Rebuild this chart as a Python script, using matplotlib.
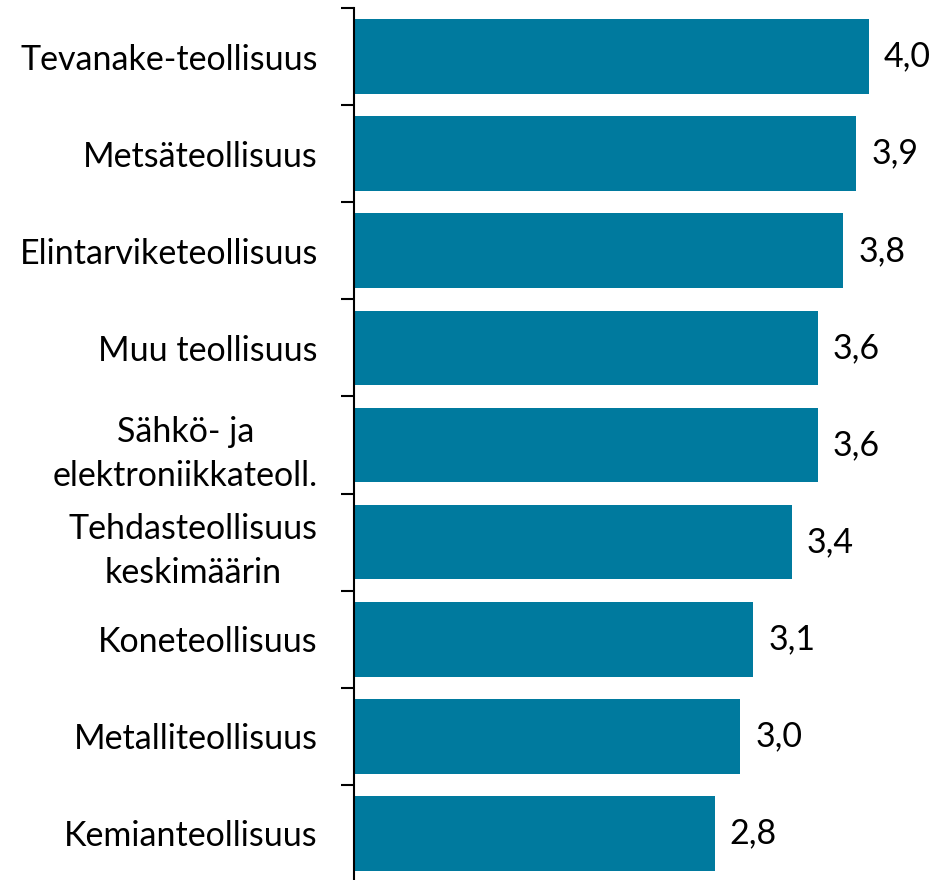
import matplotlib
matplotlib.use("Agg")
import matplotlib.pyplot as plt
import numpy as np

categories = ["Tevanake-teollisuus", "Metsäteollisuus", "Elintarviketeollisuus",
              "Muu teollisuus", "Sähkö- ja\nelektroniikkateoll.", "Tehdasteollisuus\nkeskimäärin",
              "Koneteollisuus", "Metalliteollisuus", "Kemianteollisuus"]
values = [4.0, 3.9, 3.8, 3.6, 3.6, 3.4, 3.1, 3.0, 2.8]
value_labels = ["4,0", "3,9", "3,8", "3,6", "3,6", "3,4", "3,1", "3,0", "2,8"]

plt.rcParams['font.family'] = ['Lato', 'DejaVu Sans']
W, H = 937, 880
fig = plt.figure(figsize=(W/100, H/100), dpi=100)
ax = fig.add_axes([354/W, -2/H, 1 - 354/W, (882-8)/H])

n = len(categories)
y = np.arange(n)
ax.barh(y, values, height=0.77, color="#007A9E", zorder=2)
ax.set_ylim(n - 0.5, -0.5)
ax.set_xlim(0, (W-354)/128.75)

for yi, v, lab in zip(y, values, value_labels):
    ax.annotate(lab, (v, yi), xytext=(15, 0), textcoords="offset pixels",
                va="center", ha="left", fontsize=24.5)

ax.set_yticks(y)
ax.set_yticklabels(categories, fontsize=24.5, multialignment="center", linespacing=1.45)
ax.tick_params(axis="y", which="major", length=0, pad=26)
ax.set_yticks(np.arange(-0.5, n, 1), minor=True)
ax.tick_params(axis="y", which="minor", length=9.5, width=1.5, direction="out")
ax.set_xticks([])
for s in ["top", "right", "bottom"]:
    ax.spines[s].set_visible(False)
ax.spines["left"].set_linewidth(1.5)

fig.savefig("out.png", dpi=100)
